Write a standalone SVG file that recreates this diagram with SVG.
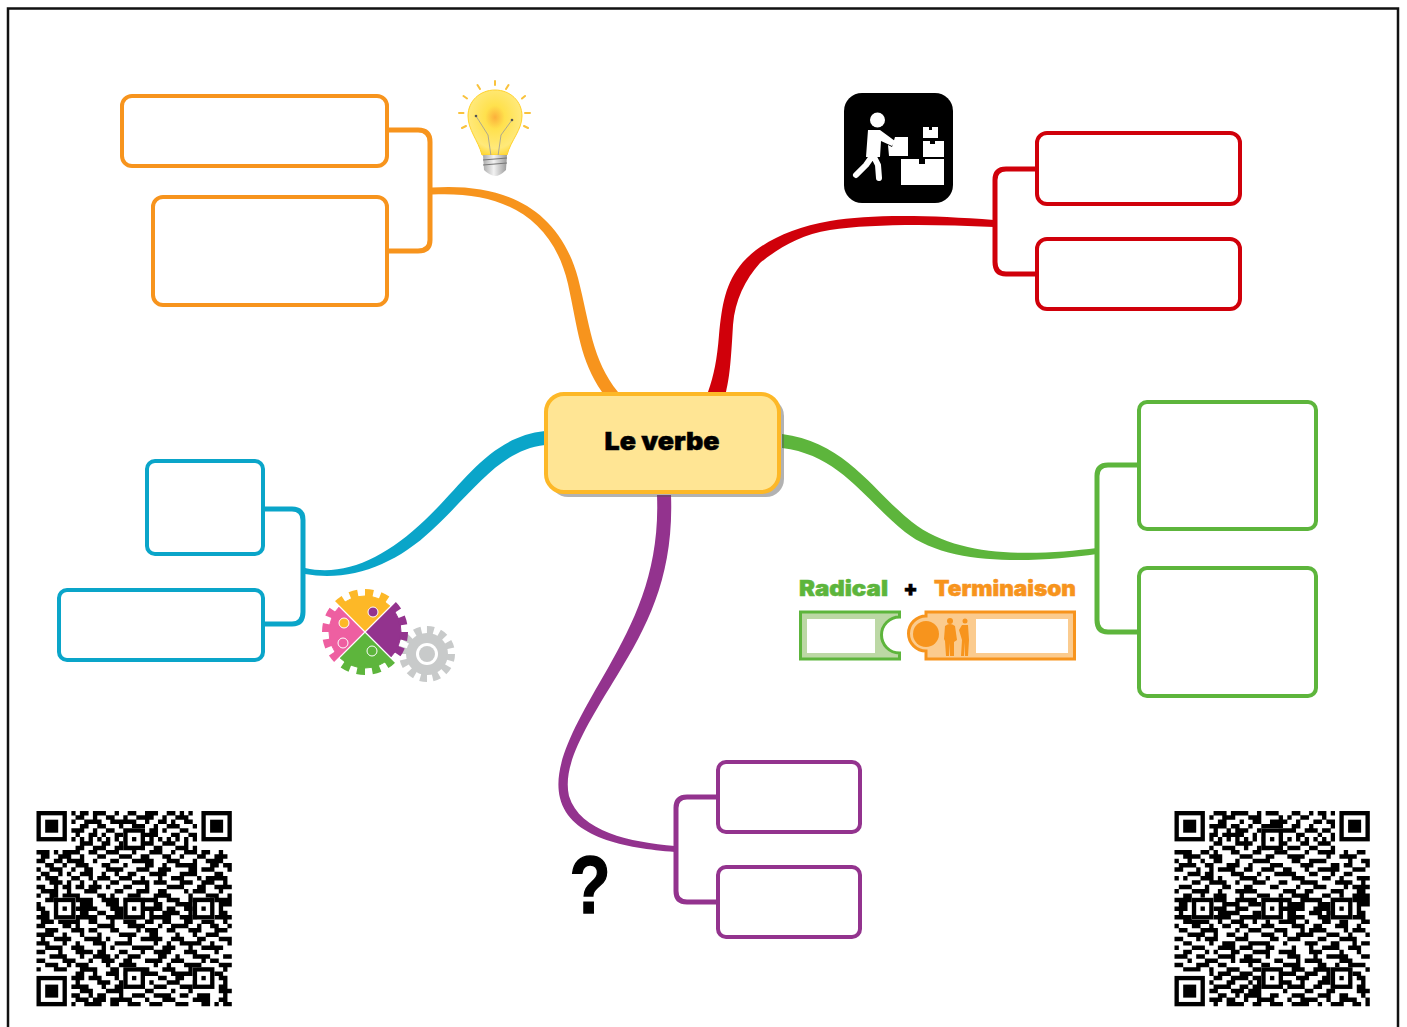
<svg xmlns="http://www.w3.org/2000/svg" xmlns:xlink="http://www.w3.org/1999/xlink" width="1407" height="1027" viewBox="0 0 1407 1027">
<style>
.box{fill:#fff;stroke-width:4}
.br{fill:none;stroke-width:5}
.o{stroke:#F7941D}.r{stroke:#D0000A}.g{stroke:#5DB53C}.b{stroke:#0AA5C9}.p{stroke:#93338E}
.qd{fill:none;stroke:#000;stroke-width:1.03}
.hv{font-family:Inter,"Noto Sans",sans-serif;font-weight:900;stroke-width:.5}
.ray{stroke:#F9C23C;stroke-width:2;stroke-linecap:round}
</style>
<defs>
<radialGradient id="bulb" cx=".5" cy=".42" r=".6"><stop offset="0" stop-color="#FBB03B"/><stop offset=".3" stop-color="#FFE14D"/><stop offset=".8" stop-color="#FFE97A"/><stop offset="1" stop-color="#FFD93B"/></radialGradient>
<linearGradient id="base" x1="0" x2="1" y1="0" y2="0"><stop offset="0" stop-color="#aaa"/><stop offset=".45" stop-color="#f2f2f2"/><stop offset="1" stop-color="#999"/></linearGradient>
<g id="fin"><rect x="-1" y="-1" width="9" height="9" fill="#fff"/><rect x=".5" y=".5" width="6" height="6" fill="none" stroke="#000"/><rect x="2" y="2" width="3" height="3"/></g>
<g id="ali"><rect x="-2" y="-2" width="5" height="5" fill="#fff"/><rect x="-1.5" y="-1.5" width="4" height="4" fill="none" stroke="#000"/><rect width="1" height="1"/></g>
<g id="qfix">
<use xlink:href="#fin"/><use xlink:href="#fin" x="38"/><use xlink:href="#fin" y="38"/>
<use xlink:href="#ali" x="6" y="22"/><use xlink:href="#ali" x="22" y="6"/><use xlink:href="#ali" x="22" y="22"/><use xlink:href="#ali" x="38" y="22"/><use xlink:href="#ali" x="22" y="38"/><use xlink:href="#ali" x="38" y="38"/>
</g>
<clipPath id="qy"><path d="M365 632L305 572H425Z"/></clipPath>
<clipPath id="qp"><path d="M365 632L425 572V692Z"/></clipPath>
<clipPath id="qg"><path d="M365 632L425 692H305Z"/></clipPath>
<clipPath id="qk"><path d="M365 632L305 692V572Z"/></clipPath>
<circle id="gr" cx="365" cy="632" r="36"/>
<circle id="gt" cx="365" cy="632" r="39" fill="none" stroke-width="8" pathLength="120" stroke-dasharray="4 3.500"/>
</defs>
<rect width="1407" height="1027" fill="#fff"/>
<path d="M8 1027V8.500H1398V1027" fill="none" stroke="#111" stroke-width="2.500"/>

<g id="connectors">
<path d="M432 187.500C500 183 558 205 578 278C590 325 592 360 618 392L602 392C580 360 578 330 568 284C552 215 500 191 432 194.500Z" fill="#F7941D"/>
<path class="br o" d="M387 130H418Q430 130 430 142V240Q430 251 418 251H387"/>
<path d="M994 220C930 215 870 214 830 221C790 228 760 243 743 262C725 283 722 305 719 335C717 360 714 375 708 392L726 392C730 375 731 360 733 325C735 300 745 280 760 263C780 247 800 235 830 230C870 224 930 224 994 227Z" fill="#D0000A"/>
<path class="br r" d="M1037 169H1006Q995 169 995 180V262Q995 274 1006 274H1037"/>
<path d="M782 434C845 442 872 490 912 522C960 560 1040 555 1097 548L1097 554C1040 562 950 568 905 532C865 500 840 455 782 448Z" fill="#5DB53C"/>
<path class="br g" d="M1139 465H1108Q1097 465 1097 476V620Q1097 632 1108 632H1139"/>
<path d="M545 431C490 437 465 482 425 520C385 558 345 577 305 568L305 574C350 582 395 565 432 530C475 490 500 450 545 445Z" fill="#0AA5C9"/>
<path class="br b" d="M263 509H292Q303 509 303 520V612Q303 624 292 624H263"/>
<path d="M657 495C660 570 635 620 608 668C575 725 552 765 560 798C570 838 625 848 675 852L675 846C630 842 580 832 569 796C562 765 585 728 618 674C648 625 674 575 671 495Z" fill="#93338E"/>
<path class="br p" d="M718 797H687Q676 797 676 808V891Q676 902 687 902H718"/>
</g>

<g id="node-center">
<rect x="550" y="398" width="234" height="99" rx="18" fill="#555" opacity=".45"/>
<rect x="546" y="394" width="233" height="98" rx="18" fill="#FFE594" stroke="#FDB827" stroke-width="4"/>
<text class="hv" x="662" y="450" font-size="25" text-anchor="middle" textLength="115" lengthAdjust="spacingAndGlyphs" stroke="#000">Le verbe</text>
</g>
<g id="node-orange-1"><rect class="box o" x="122" y="96" width="265" height="70" rx="10"/></g>
<g id="node-orange-2"><rect class="box o" x="153" y="197" width="234" height="108" rx="10"/></g>
<g id="node-red-1"><rect class="box r" x="1037" y="133" width="203" height="71" rx="10"/></g>
<g id="node-red-2"><rect class="box r" x="1037" y="239" width="203" height="70" rx="10"/></g>
<g id="node-green-1"><rect class="box g" x="1139" y="402" width="177" height="127" rx="8"/></g>
<g id="node-green-2"><rect class="box g" x="1139" y="568" width="177" height="128" rx="8"/></g>
<g id="node-blue-1"><rect class="box b" x="147" y="461" width="116" height="93" rx="8"/></g>
<g id="node-blue-2"><rect class="box b" x="59" y="590" width="204" height="70" rx="8"/></g>
<g id="node-purple-1"><rect class="box p" x="718" y="762" width="142" height="70" rx="8"/></g>
<g id="node-purple-2"><rect class="box p" x="718" y="867" width="142" height="70" rx="8"/></g>

<g id="icon-bulb">
<path class="ray" d="M495 81V85M477.500 85L480 89M508.500 85L506 89M463.500 96L467 98.500M525 96L522 98.500M459 113H463.500M525 113H530M462 128L466 126M528 128L524 126"/>
<path d="M495 90C510 90 522 101 522 116C522 130 511 140 507 155H482C478 140 468 130 468 116C468 101 480 90 495 90Z" fill="url(#bulb)" stroke="#FFD22E" stroke-width="1"/>
<path d="M476 116L488 135L491 156M512 120L501 135L498 156" fill="none" stroke="#999" stroke-width=".8"/>
<circle cx="476" cy="116" r="1.300" fill="#555"/><circle cx="512" cy="120" r="1.300" fill="#555"/>
<path d="M483 155H507L506 170Q500 176 495 176Q489 175 484 170Z" fill="url(#base)"/>
<path d="M483 160L507 158M483 165L507 163" stroke="#777" stroke-width="1"/>
</g>

<g id="icon-worker">
<rect x="844" y="93" width="109" height="110" rx="18"/>
<g fill="#fff">
<circle cx="877.500" cy="120" r="7.500"/>
<path d="M868 130H880L895 141L892 146L881 141L880 157L866 157Z"/>
<path d="M888 145L892 147L895 137H899L908 137V156H889Z"/>
<path d="M901 159H919V164H925V159H944V185H901Z"/>
<path d="M923 141H930V144H935V141H944V157H923Z"/>
<path d="M923 127H929V130H932V127H938V138H923Z"/>
</g>
<path d="M873 155L866 165L856 175M873 155L878 165L879 178" fill="none" stroke="#fff" stroke-width="6" stroke-linecap="round" stroke-linejoin="round"/>
</g>

<g id="icon-gears">
<g fill="#C8CACA"><circle cx="427" cy="654" r="21"/><circle cx="427" cy="654" r="24" fill="none" stroke="#C8CACA" stroke-width="8" pathLength="100" stroke-dasharray="4.550 3.780"/></g>
<circle cx="427" cy="654" r="11" fill="#fff"/><circle cx="427" cy="654" r="8" fill="#C8CACA"/>
<g clip-path="url(#qy)" fill="#FDB827" stroke="#FDB827"><use xlink:href="#gr"/><use xlink:href="#gt"/></g>
<g clip-path="url(#qp)" fill="#93338E" stroke="#93338E"><use xlink:href="#gr"/><use xlink:href="#gt"/></g>
<g clip-path="url(#qg)" fill="#5DB53C" stroke="#5DB53C"><use xlink:href="#gr"/><use xlink:href="#gt"/></g>
<g clip-path="url(#qk)" fill="#EE5FA1" stroke="#EE5FA1"><use xlink:href="#gr"/><use xlink:href="#gt"/></g>
<path d="M332 599L398 665M398 599L332 665" stroke="#fff" stroke-width="1.200"/>
<g stroke="#fff" stroke-width="1"><circle cx="344" cy="623" r="5" fill="#FDB827"/><circle cx="373" cy="612" r="5" fill="#93338E"/><circle cx="343" cy="643" r="5" fill="#EE5FA1"/><circle cx="372" cy="651" r="5" fill="#5DB53C"/></g>
</g>

<g id="icon-question"><text transform="translate(590 913) scale(.82 1)" font-family="'Liberation Sans',Arial,sans-serif" font-weight="700" font-size="82" text-anchor="middle" stroke="#000" stroke-width="1.500">?</text></g>

<g id="legend">
<text class="hv" x="799" y="596" font-size="21" fill="#5DB53C" stroke="#5DB53C" textLength="89" lengthAdjust="spacingAndGlyphs">Radical</text>
<text class="hv" x="910.500" y="596" font-size="21" text-anchor="middle" stroke="#000">+</text>
<text class="hv" x="934" y="596" font-size="21" fill="#F7941D" stroke="#F7941D" textLength="142" lengthAdjust="spacingAndGlyphs">Terminaison</text>
<path d="M800.500 612H899.500V617A18 18 0 0 0 899.500 653V659H800.500Z" fill="#BCD8A5" stroke="#5DB53C" stroke-width="3"/>
<rect x="807" y="619" width="68" height="34" fill="#fff"/>
<path d="M926 612H1074.500V659H926V651A17.500 17.500 0 0 1 926 616Z" fill="#FBCB8E" stroke="#F7941D" stroke-width="3"/>
<circle cx="926" cy="634" r="13" fill="#F7941D"/>
<rect x="976" y="619" width="92" height="34" fill="#fff"/>
<g fill="#F7941D">
<circle cx="950" cy="621" r="3"/><path d="M945 626Q950 622 955 626L957 640L954 642V656H950V643L949 656H946L945 641L944 639Z"/>
<circle cx="965" cy="621" r="2.500"/><path d="M962 625H968L969 640L968 656H965V642L964 656H961L962 640L959 630Z"/>
</g>
</g>

<g id="qr-left" transform="translate(36.500 811) scale(4.340)">
<path class="qd" d="M8 .5h1M10 .5h2M13 .5h3M18 .5h1M21 .5h2M25 .5h3M30 .5h2M33 .5h1M35 .5h1
M9 1.500h2M13 1.500h1M16 1.500h2M20 1.500h1M23 1.500h4M29 1.500h1M32 1.500h3
M8 2.500h1M11 2.500h4M17 2.500h6M25 2.500h1M28 2.500h2M31 2.500h1M34 2.500h2
M10 3.500h2M14 3.500h2M19 3.500h1M22 3.500h3M27 3.500h1M30 3.500h3M36 3.500h1
M8 4.500h3M13 4.500h1M16 4.500h2M20 4.500h4M26 4.500h2M29 4.500h1M33 4.500h2
M9 5.500h1M12 5.500h2M15 5.500h1M18 5.500h2M25 5.500h3M31 5.500h2M35 5.500h2
M8 6.500h1M10 6.500h1M12 6.500h1M14 6.500h1M16 6.500h1M18 6.500h1M20 6.500h1M26 6.500h1M28 6.500h1M30 6.500h1M32 6.500h1M34 6.500h1M36 6.500h1
M10 7.500h3M15 7.500h2M19 7.500h1M25 7.500h2M29 7.500h3M34 7.500h1
M9 8.500h2M13 8.500h3M18 8.500h4M24 8.500h1M27 8.500h2M32 8.500h3M36 8.500h1
M0 9.500h3M4 9.500h1M6 9.500h4M12 9.500h2M16 9.500h3M22 9.500h1M26 9.500h3M31 9.500h1M34 9.500h3M38 9.500h2M42 9.500h1
M1 10.500h2M5 10.500h3M10 10.500h1M14 10.500h2M19 10.500h3M24 10.500h2M29 10.500h2M33 10.500h1M37 10.500h2M41 10.500h3
M0 11.500h2M4 11.500h2M7 11.500h4M13 11.500h1M17 11.500h2M22 11.500h5M30 11.500h3M36 11.500h1M39 11.500h4
M2 12.500h2M6 12.500h1M9 12.500h3M15 12.500h2M20 12.500h1M25 12.500h2M29 12.500h1M32 12.500h5M40 12.500h2M43 12.500h2
M0 13.500h1M3 13.500h3M8 13.500h1M11 13.500h2M16 13.500h4M23 13.500h3M28 13.500h3M35 13.500h2M38 13.500h3M44 13.500h1
M1 14.500h2M5 14.500h1M7 14.500h1M10 14.500h3M15 14.500h1M18 14.500h1M21 14.500h2M26 14.500h4M33 14.500h4M41 14.500h2
M0 15.500h1M2 15.500h3M8 15.500h2M12 15.500h1M14 15.500h3M19 15.500h3M24 15.500h1M28 15.500h1M31 15.500h3M37 15.500h1M39 15.500h5
M3 16.500h3M7 16.500h1M10 16.500h1M13 16.500h1M17 16.500h2M22 16.500h4M27 16.500h3M33 16.500h3M38 16.500h3M43 16.500h1
M0 17.500h2M4 17.500h1M6 17.500h2M9 17.500h2M12 17.500h3M16 17.500h1M20 17.500h2M25 17.500h1M30 17.500h4M37 17.500h2M41 17.500h4
M1 18.500h4M7 18.500h1M11 18.500h3M18 18.500h2M23 18.500h3M28 18.500h2M34 18.500h1M36 18.500h3M42 18.500h1
M0 19.500h1M3 19.500h2M6 19.500h4M14 19.500h2M17 19.500h1M21 19.500h3M27 19.500h4M35 19.500h1M39 19.500h3M44 19.500h1
M2 20.500h3M9 20.500h4M15 20.500h4M20 20.500h8M30 20.500h3M35 20.500h4M40 20.500h5
M0 21.500h1M10 21.500h3M16 21.500h3M27 21.500h2M32 21.500h4M42 21.500h3
M0 22.500h2M9 22.500h5M17 22.500h4M25 22.500h4M30 22.500h2M34 22.500h3M42 22.500h1
M1 23.500h2M10 23.500h2M14 23.500h2M18 23.500h3M26 23.500h1M29 23.500h4M35 23.500h1M42 23.500h2
M0 24.500h3M9 24.500h5M16 24.500h8M26 24.500h5M33 24.500h4M41 24.500h4
M1 25.500h3M5 25.500h5M12 25.500h2M17 25.500h1M20 25.500h3M25 25.500h2M29 25.500h2M34 25.500h2M38 25.500h3M43 25.500h1
M0 26.500h2M6 26.500h2M9 26.500h1M14 26.500h4M21 26.500h4M28 26.500h1M31 26.500h4M37 26.500h1M40 26.500h2M44 26.500h1
M2 27.500h3M8 27.500h3M12 27.500h2M17 27.500h2M23 27.500h1M25 27.500h3M30 27.500h2M35 27.500h3M41 27.500h3
M0 28.500h4M6 28.500h1M10 28.500h1M14 28.500h1M19 28.500h4M26 28.500h2M32 28.500h1M36 28.500h1M39 28.500h3
M1 29.500h1M4 29.500h4M11 29.500h4M16 29.500h1M21 29.500h1M24 29.500h5M31 29.500h3M37 29.500h2M42 29.500h3
M0 30.500h3M6 30.500h1M9 30.500h1M13 30.500h3M18 30.500h4M27 30.500h1M30 30.500h1M33 30.500h5M40 30.500h1M44 30.500h1
M2 31.500h4M8 31.500h3M15 31.500h1M17 31.500h1M22 31.500h5M29 31.500h3M35 31.500h1M38 31.500h5
M0 32.500h2M5 32.500h1M9 32.500h4M14 32.500h2M19 32.500h2M24 32.500h1M27 32.500h4M34 32.500h3M41 32.500h1
M3 33.500h4M10 33.500h1M13 33.500h4M18 33.500h1M21 33.500h3M28 33.500h2M32 33.500h1M36 33.500h4M43 33.500h2
M0 34.500h2M6 34.500h3M12 34.500h1M15 34.500h3M20 34.500h2M25 34.500h4M31 34.500h3M38 34.500h1M40 34.500h2
M2 35.500h3M7 35.500h1M9 35.500h3M16 35.500h1M19 35.500h4M27 35.500h1M30 35.500h1M34 35.500h4M42 35.500h3
M0 36.500h1M4 36.500h3M10 36.500h4M17 36.500h2M23 36.500h3M29 36.500h3M35 36.500h1M37 36.500h3M43 36.500h1
M9 37.500h2M13 37.500h1M16 37.500h3M20 37.500h8M31 37.500h5M38 37.500h5
M8 38.500h3M12 38.500h3M18 38.500h1M28 38.500h2M32 38.500h2M42 38.500h2
M9 39.500h1M14 39.500h3M19 39.500h2M26 39.500h1M30 39.500h3M36 39.500h1M43 39.500h1
M8 40.500h4M15 40.500h1M18 40.500h3M27 40.500h3M33 40.500h4M42 40.500h2
M10 41.500h3M16 41.500h4M25 41.500h2M31 41.500h1M35 41.500h1M42 41.500h3
M8 42.500h2M12 42.500h1M14 42.500h2M19 42.500h1M22 42.500h3M27 42.500h4M33 42.500h2M37 42.500h3M43 42.500h1
M9 43.500h3M13 43.500h3M17 43.500h5M25 43.500h1M29 43.500h3M36 43.500h4M42 43.500h2
M8 44.500h1M11 44.500h4M17 44.500h2M21 44.500h3M26 44.500h3M32 44.500h3M38 44.500h2M41 44.500h1M43 44.500h2"/>
<use xlink:href="#qfix"/>
</g>

<g id="qr-right" transform="translate(1174.500 811) scale(4.340)">
<path class="qd" d="M9 .5h3M13 .5h4M19 .5h1M21 .5h3M27 .5h2M31 .5h1M33 .5h2M36 .5h1
M8 1.500h1M11 1.500h3M17 1.500h3M24 1.500h1M26 1.500h1M29 1.500h2M34 1.500h1
M10 2.500h2M15 2.500h1M18 2.500h2M22 2.500h4M28 2.500h1M32 2.500h2M35 2.500h2
M8 3.500h4M13 3.500h2M17 3.500h1M20 3.500h5M27 3.500h2M31 3.500h1M36 3.500h1
M9 4.500h1M12 4.500h1M14 4.500h3M19 4.500h2M24 4.500h4M30 4.500h3M34 4.500h2
M8 5.500h2M11 5.500h5M18 5.500h1M21 5.500h4M28 5.500h2M33 5.500h1M36 5.500h1
M8 6.500h1M10 6.500h1M12 6.500h1M14 6.500h1M16 6.500h1M18 6.500h1M20 6.500h1M26 6.500h1M28 6.500h1M30 6.500h1M32 6.500h1M34 6.500h1M36 6.500h1
M9 7.500h2M14 7.500h4M21 7.500h1M25 7.500h1M29 7.500h2M33 7.500h3
M8 8.500h1M11 8.500h3M16 8.500h1M19 8.500h3M26 8.500h3M31 8.500h2M36 8.500h1
M0 9.500h4M6 9.500h2M9 9.500h1M13 9.500h2M18 9.500h2M23 9.500h3M30 9.500h1M33 9.500h4M39 9.500h1M42 9.500h2
M2 10.500h4M8 10.500h3M15 10.500h3M21 10.500h2M26 10.500h4M35 10.500h1M38 10.500h4
M0 11.500h1M3 11.500h1M6 11.500h1M9 11.500h2M14 11.500h1M18 11.500h4M27 11.500h2M31 11.500h4M40 11.500h1M43 11.500h2
M1 12.500h4M7 12.500h2M12 12.500h3M17 12.500h1M22 12.500h3M29 12.500h3M36 12.500h2M39 12.500h2M44 12.500h1
M0 13.500h2M5 13.500h1M8 13.500h1M10 13.500h4M16 13.500h2M20 13.500h3M25 13.500h2M30 13.500h1M33 13.500h5M41 13.500h3
M3 14.500h3M7 14.500h2M13 14.500h3M19 14.500h1M23 14.500h5M31 14.500h2M36 14.500h1M39 14.500h2
M0 15.500h1M2 15.500h1M6 15.500h3M10 15.500h1M15 15.500h4M21 15.500h1M27 15.500h3M34 15.500h2M38 15.500h1M42 15.500h3
M4 16.500h2M8 16.500h4M14 16.500h1M18 16.500h3M24 16.500h2M29 16.500h4M37 16.500h4M43 16.500h1
M1 17.500h3M7 17.500h1M11 17.500h2M16 17.500h2M22 17.500h2M28 17.500h1M32 17.500h3M39 17.500h1M41 17.500h4
M0 18.500h1M4 18.500h4M10 18.500h1M14 18.500h5M25 18.500h3M30 18.500h2M36 18.500h3M42 18.500h2
M2 19.500h2M6 19.500h1M9 19.500h3M15 19.500h1M19 19.500h3M24 19.500h1M27 19.500h4M34 19.500h2M38 19.500h1M41 19.500h4
M0 20.500h4M9 20.500h3M14 20.500h5M20 20.500h7M29 20.500h5M36 20.500h9
M1 21.500h2M11 21.500h4M17 21.500h3M26 21.500h4M33 21.500h3M42 21.500h3
M0 22.500h3M9 22.500h3M14 22.500h3M20 22.500h1M25 22.500h5M32 22.500h4M42 22.500h1
M1 23.500h1M10 23.500h5M18 23.500h2M26 23.500h2M31 23.500h3M35 23.500h2M42 23.500h2
M0 24.500h4M9 24.500h4M15 24.500h7M26 24.500h4M33 24.500h3M41 24.500h3
M2 25.500h6M10 25.500h1M13 25.500h3M18 25.500h1M21 25.500h1M24 25.500h4M30 25.500h1M34 25.500h2M38 25.500h2M43 25.500h2
M0 26.500h1M4 26.500h2M8 26.500h1M11 26.500h2M15 26.500h2M20 26.500h3M27 26.500h3M32 26.500h2M37 26.500h3M42 26.500h1
M1 27.500h2M6 27.500h4M14 27.500h1M17 27.500h3M23 27.500h3M29 27.500h1M31 27.500h4M39 27.500h1M41 27.500h3
M3 28.500h4M9 28.500h1M12 28.500h2M16 28.500h1M20 28.500h3M25 28.500h1M28 28.500h4M35 28.500h3M40 28.500h1M44 28.500h1
M0 29.500h2M5 29.500h1M7 29.500h3M14 29.500h3M22 29.500h2M26 29.500h3M33 29.500h2M38 29.500h4
M2 30.500h2M8 30.500h1M11 30.500h3M17 30.500h5M25 30.500h1M30 30.500h3M36 30.500h2M41 30.500h1M43 30.500h2
M0 31.500h1M4 31.500h3M10 31.500h4M15 31.500h3M21 31.500h2M27 31.500h1M31 31.500h1M34 31.500h4M40 31.500h3
M2 32.500h2M7 32.500h1M9 32.500h1M13 32.500h2M18 32.500h4M24 32.500h4M31 32.500h3M38 32.500h1M42 32.500h1
M0 33.500h3M5 33.500h2M10 33.500h4M16 33.500h2M21 33.500h1M26 33.500h3M32 33.500h1M35 33.500h5M43 33.500h2
M3 34.500h1M7 34.500h3M13 34.500h1M15 34.500h5M23 34.500h2M28 34.500h1M30 34.500h4M38 34.500h3
M0 35.500h2M5 35.500h3M10 35.500h2M17 35.500h1M20 35.500h2M25 35.500h4M33 35.500h2M37 35.500h1M40 35.500h4
M2 36.500h4M8 36.500h1M12 36.500h3M18 36.500h2M22 36.500h1M27 36.500h3M32 36.500h4M38 36.500h3M44 36.500h1
M8 37.500h1M10 37.500h3M15 37.500h3M20 37.500h8M30 37.500h3M35 37.500h1M37 37.500h6
M9 38.500h2M13 38.500h4M18 38.500h2M28 38.500h3M34 38.500h2M42 38.500h2
M8 39.500h1M12 39.500h2M17 39.500h1M19 39.500h1M25 39.500h2M29 39.500h1M33 39.500h3M43 39.500h1
M9 40.500h4M15 40.500h2M18 40.500h3M26 40.500h4M32 40.500h2M36 40.500h1M42 40.500h2
M8 41.500h2M13 41.500h3M17 41.500h3M25 41.500h1M30 41.500h2M35 41.500h2M42 41.500h3
M10 42.500h2M14 42.500h1M16 42.500h4M22 42.500h2M27 42.500h3M33 42.500h3M38 42.500h2M43 42.500h1
M8 43.500h3M12 43.500h2M16 43.500h1M19 43.500h4M26 43.500h1M29 43.500h4M35 43.500h1M38 43.500h4M44 43.500h1
M9 44.500h1M12 44.500h4M18 44.500h2M22 44.500h3M27 44.500h4M33 44.500h1M36 44.500h3M41 44.500h2M44 44.500h1"/>
<use xlink:href="#qfix"/>
</g>
</svg>
